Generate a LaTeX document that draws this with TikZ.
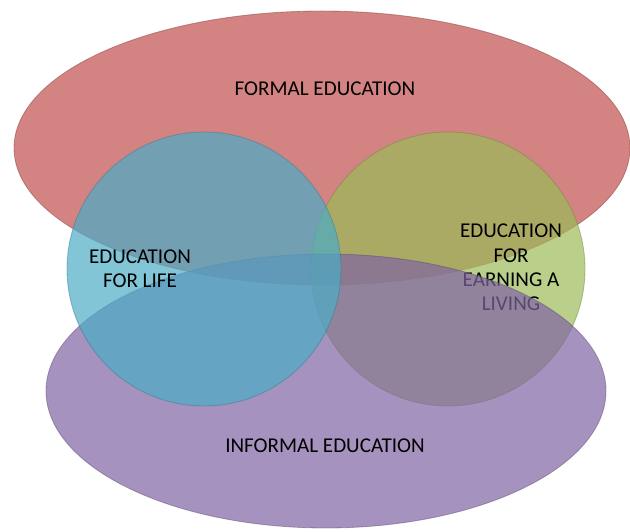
\documentclass[tikz,border=0pt]{standalone}
\usepackage{fontspec}
\setmainfont{Carlito}
\usetikzlibrary{positioning}
\definecolor{formalred}{HTML}{C0504D}
\definecolor{lifeblue}{HTML}{4BACC6}
\definecolor{earngreen}{HTML}{9BBB59}
\definecolor{informalpurple}{HTML}{8064A2}
\tikzset{set/.style = {fill = #1, fill opacity = 0.7, draw = #1!70!black, draw opacity = 0.45, line width = 0.6pt}}
\tikzset{setlabel/.style = {align = center, font = \fontsize{15}{17.3}\selectfont, text = black}}

\begin{document}
\begin{tikzpicture}
\useasboundingbox (0,0) rectangle (15.75,13.3);
\coordinate (F) at (8.05,9.6);
\coordinate (L) at (5.1,6.575);
\coordinate (E) at (11.2,6.575);
\coordinate (I) at (8.15,3.525);
\draw[set = formalred] (F) ellipse [x radius = 7.7, y radius = 3.425];
\draw[set = earngreen] (E) circle [radius = 3.425];
\node[setlabel] (earning) at (12.775,6.61) {EDUCATION\\FOR\\EARNING A\\LIVING};
\draw[set = informalpurple] (I) ellipse [x radius = 7.0, y radius = 3.425];
\draw[set = lifeblue] (L) circle [radius = 3.425];
\node[setlabel] (formal) at (8.125,11.075) {FORMAL EDUCATION};
\node[setlabel] (life) at (3.5,6.59) {EDUCATION\\FOR LIFE};
\node[setlabel] (informal) at (8.125,2.15) {INFORMAL EDUCATION};
\end{tikzpicture}
\end{document}
